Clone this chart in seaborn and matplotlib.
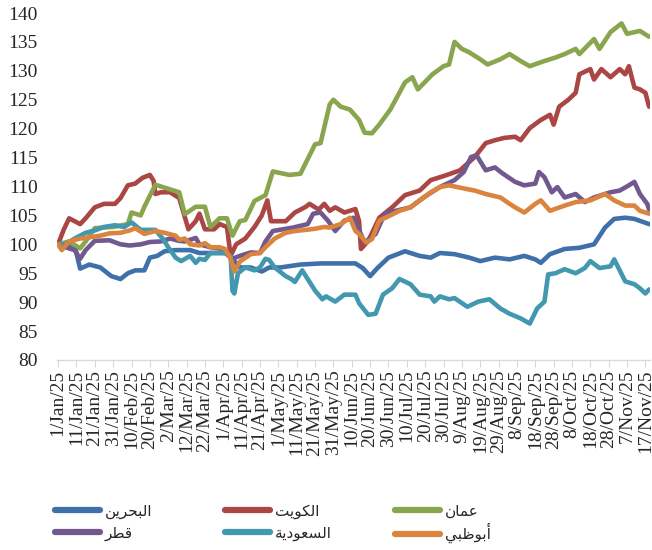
import numpy as np
import pandas as pd
import matplotlib
matplotlib.use("Agg")
import matplotlib.pyplot as plt
import seaborn as sns

# day offsets from 1 Jan 2025 and index values
bahrain_days = [0, 9, 12, 17, 23, 27, 29, 34, 38, 42, 47, 50, 54, 58, 64, 72, 77, 91, 95, 99, 105, 111, 115, 121,
                132, 143, 162, 166, 170, 174, 180, 189, 197, 203, 208, 216, 224, 230, 238, 246, 254, 260, 263, 268,
                276, 284, 292, 298, 303, 309, 314, 322]
bahrain_vals = [100, 99.8, 95.8, 96.5, 96, 95, 94.5, 94, 95, 95.5, 95.5, 97.7, 98, 98.8, 99, 99, 98.5, 98.5, 97.5,
                96, 96, 95.3, 96, 96, 96.5, 96.7, 96.7, 95.9, 94.5, 95.9, 97.7, 98.8, 98, 97.7, 98.5, 98.3, 97.7,
                97.1, 97.7, 97.4, 98, 97.4, 96.8, 98.3, 99.2, 99.4, 100, 102.9, 104.4, 104.6, 104.4, 103.5]

kuwait_days = [0, 3, 6, 12, 15, 20, 25, 31, 34, 38, 42, 46, 50, 52, 53, 56, 61, 66, 71, 75, 77, 80, 85, 88, 92, 94,
               97, 102, 107, 111, 114, 116, 124, 129, 135, 137, 142, 145, 148, 151, 156, 162, 164, 165, 169, 175,
               182, 189, 197, 203, 211, 219, 227, 233, 238, 243, 249, 252, 257, 263, 268, 270, 273, 278, 282, 284,
               290, 292, 296, 301, 306, 309, 311, 314, 317, 320, 322]
kuwait_vals = [100, 102.5, 104.5, 103.5, 104.5, 106.4, 107, 107, 108, 110.2, 110.5, 111.5, 112, 111, 108.7, 109, 109,
               108, 102.6, 104, 105.3, 102.6, 102.6, 103.5, 103, 98, 100, 101, 103, 105, 107.6, 104, 104, 105.5,
               106.5, 107, 106, 107, 105.8, 106.4, 105.5, 106.1, 104, 99.2, 100.6, 104.6, 106.4, 108.5, 109.3, 111.1,
               111.9, 112.8, 115.1, 117.5, 118, 118.4, 118.6, 118, 120.1, 121.5, 122.4, 120.7, 123.8, 125, 126.2,
               129.4, 130.3, 128.5, 130.3, 128.9, 130.3, 129.4, 130.8, 127.1, 126.8, 126.2, 123.8]

oman_days = [0, 6, 12, 15, 20, 30, 38, 40, 45, 47, 53, 61, 66, 69, 75, 80, 83, 88, 92, 95, 99, 102, 107, 113, 117,
             126, 132, 140, 143, 148, 150, 154, 159, 164, 167, 171, 175, 181, 189, 193, 196, 204, 210, 213, 216, 220,
             224, 230, 234, 241, 246, 252, 257, 265, 271, 276, 282, 284, 292, 295, 301, 307, 310, 317, 322]
oman_vals = [100, 100.5, 99.3, 100.5, 102.8, 103, 103.5, 105.5, 105, 106.5, 110.3, 109.5, 109, 105.2, 106.5, 106.5,
             103, 104.5, 104.5, 101.5, 104, 104.2, 107.5, 108.5, 112.6, 112, 112.2, 117.3, 117.5, 124.2, 125, 123.8,
             123.3, 121.5, 119.3, 119.2, 120.7, 123.3, 128, 128.9, 126.8, 129.4, 130.8, 131.1, 135, 133.8, 133.2, 132,
             131.1, 132, 132.9, 131.7, 130.8, 131.7, 132.3, 132.9, 133.8, 132.9, 135.5, 133.8, 136.7, 138.2, 136.4,
             136.9, 135.9]

qatar_days = [0, 4, 9, 12, 15, 20, 28, 34, 39, 45, 50, 56, 61, 66, 69, 75, 77, 83, 88, 92, 95, 99, 105, 110, 113, 117,
              128, 136, 139, 143, 147, 151, 156, 161, 167, 173, 178, 184, 192, 197, 201, 208, 216, 221, 225, 228, 233,
              238, 242, 249, 254, 260, 262, 265, 269, 272, 276, 282, 287, 292, 301, 306, 311, 314, 317, 321, 322]
qatar_vals = [100, 99.5, 99, 97.5, 99, 100.6, 100.7, 100, 99.8, 100, 100.4, 100.5, 101, 100.6, 100.5, 101.1, 100, 99.5,
              99.3, 98.5, 97.5, 98, 98.6, 98.5, 100.5, 102.3, 102.9, 103.5, 105.3, 105.5, 104.1, 102.3, 104.1, 104.6,
              100.3, 101.8, 105.3, 105.8, 106.4, 107.6, 108.5, 109.9, 111.1, 112.5, 115.1, 115.4, 112.8, 113.3, 112.3,
              110.8, 110.2, 110.5, 112.5, 111.6, 109, 109.9, 108.1, 108.7, 107.3, 108.1, 109, 109.3, 110.2, 110.8,
              108.7, 107, 106]

saudi_days = [0, 4, 9, 15, 20, 25, 31, 36, 40, 45, 50, 53, 57, 60, 64, 67, 72, 75, 77, 80, 83, 91, 94, 95, 96, 98, 102,
              107, 110, 113, 115, 118, 124, 127, 129, 133, 136, 140, 144, 146, 151, 156, 162, 164, 169, 173, 177, 182,
              186, 192, 197, 203, 205, 208, 213, 216, 223, 229, 235, 241, 246, 252, 257, 261, 265, 267, 271, 276, 282,
              287, 290, 295, 301, 303, 309, 314, 317, 320, 322]
saudi_vals = [100, 100, 101, 102, 102.4, 103, 103.3, 103, 103.8, 102.5, 102.5, 102.5, 101, 99.5, 97.7, 97.1, 98, 96.8,
              97.5, 97.3, 98.5, 98.5, 98, 92, 91.5, 95, 96, 95.5, 96, 97.5, 97.3, 96, 94.5, 94, 93.5, 95.5, 94, 92,
              90.5, 91, 90.1, 91.3, 91.3, 89.8, 87.8, 88, 91.3, 92.4, 94, 93.1, 91.3, 91, 90.1, 91, 90.5, 90.7, 89.2,
              90.1, 90.5, 88.9, 88, 87.2, 86.3, 88.9, 90.1, 94.8, 95, 95.7, 95, 95.9, 97.1, 95.9, 96.2, 97.4, 93.6,
              93.1, 92.4, 91.5, 92.2]

abudhabi_days = [0, 2, 6, 12, 17, 23, 28, 34, 39, 42, 47, 53, 58, 64, 66, 69, 72, 77, 80, 83, 88, 91, 94, 96, 99, 105,
                 110, 113, 118, 124, 129, 135, 140, 145, 148, 154, 159, 162, 164, 168, 171, 175, 181, 186, 192, 197,
                 203, 208, 213, 222, 227, 233, 241, 246, 249, 254, 260, 263, 268, 276, 282, 290, 298, 303, 309, 314,
                 317, 322]
abudhabi_vals = [100, 99, 100.5, 101, 101.2, 101.5, 101.9, 102, 102.4, 102.8, 101.8, 102.3, 102, 101.5, 100.8, 101,
                 100, 99.8, 100.2, 99.5, 99.5, 99.2, 97.5, 95.3, 97, 98.3, 98.5, 99.5, 101, 102, 102.3, 102.5, 102.7,
                 103, 102.9, 103.5, 104.6, 102.3, 101.8, 100.3, 100.9, 104.1, 105, 105.8, 106.4, 107.6, 109, 109.9,
                 110.2, 109.6, 109.3, 108.7, 108.1, 107, 106.4, 105.5, 107, 107.6, 105.8, 106.7, 107.3, 107.6, 108.7,
                 107.6, 106.7, 106.7, 105.8, 105.3]

names = ["البحرين", "الكويت", "عمان", "قطر", "السعودية", "أبوظبي"]
colors = ["#4070AA", "#AA4643", "#89A54E", "#71588F", "#4198AF", "#DB843D"]

# matplotlib has no arabic shaping, so pick presentation forms by hand
AR = {'ا': (0xFE8D, 0), 'أ': (0xFE83, 0), 'ب': (0xFE8F, 1), 'ة': (0xFE93, 0), 'ت': (0xFE95, 1),
      'ح': (0xFEA1, 1), 'د': (0xFEA9, 0), 'ر': (0xFEAD, 0), 'س': (0xFEB1, 1), 'ط': (0xFEC1, 1),
      'ظ': (0xFEC5, 1), 'ع': (0xFEC9, 1), 'ق': (0xFED5, 1), 'ك': (0xFED9, 1), 'ل': (0xFEDD, 1),
      'م': (0xFEE1, 1), 'ن': (0xFEE5, 1), 'و': (0xFEED, 0), 'ي': (0xFEF1, 1)}


def shape_ar(word):
    out = []
    for i, ch in enumerate(word):
        base, dual = AR[ch]
        k = (1 if i > 0 and AR[word[i - 1]][1] else 0) + (2 if dual and i < len(word) - 1 else 0)
        out.append(chr(base + k))
    return "".join(reversed(out))


start = pd.Timestamp("2025-01-01")
series = [(bahrain_days, bahrain_vals), (kuwait_days, kuwait_vals), (oman_days, oman_vals),
          (qatar_days, qatar_vals), (saudi_days, saudi_vals), (abudhabi_days, abudhabi_vals)]
frames = []
for name, (d, v) in zip(names, series):
    frames.append(pd.DataFrame({"date": start + pd.to_timedelta(d, unit="D"), "value": v, "market": name}))
df = pd.concat(frames, ignore_index=True)

sns.set_style("white")
fig = plt.figure(figsize=(6.52, 5.5), dpi=100)
ax = fig.add_axes([57 / 652, 1 - 360 / 550, 593 / 652, 347 / 550])

sns.lineplot(data=df, x="date", y="value", hue="market", hue_order=names, palette=colors,
             estimator=None, linewidth=3.3, ax=ax, legend=False)

ax.set_ylim(80, 140)
ax.set_yticks(np.arange(80, 141, 5))
ax.set_xlim(start - pd.Timedelta(days=0.6), start + pd.Timedelta(days=322.5))
ticks = pd.date_range(start, periods=33, freq="10D")
ax.set_xticks(ticks)
ax.set_xticklabels([f"{t.day}/{t.strftime('%b/%y')}" for t in ticks], rotation=90,
                   fontfamily="Liberation Serif", fontsize=14)
for lab in ax.get_yticklabels():
    lab.set_fontfamily("Liberation Serif")
    lab.set_fontsize(14)
ax.set_xlabel("")
ax.set_ylabel("")
for s in ["top", "right", "left"]:
    ax.spines[s].set_visible(False)
ax.spines["bottom"].set_color("#d9d9d9")
ax.spines["bottom"].set_linewidth(1)
ax.tick_params(axis="x", length=5, color="#d9d9d9", pad=2, bottom=True, direction="out")
ax.tick_params(axis="y", length=0, pad=14)

# one legend entry per cell so rows and columns line up like the original
col_x = [55, 225, 395]
row_y = [511, 533]
for i, (name, c) in enumerate(zip(names, colors)):
    h = plt.Line2D([], [], color=c, linewidth=4.5, solid_capstyle="round")
    fig.legend([h], [shape_ar(name)], loc="center left",
               bbox_to_anchor=(col_x[i % 3] / 652, 1 - row_y[i // 3] / 550), frameon=False,
               prop={"family": "DejaVu Sans", "size": 11}, handlelength=2.95, handletextpad=0.3,
               borderpad=0, borderaxespad=0)

fig.savefig("out.png", dpi=100)
